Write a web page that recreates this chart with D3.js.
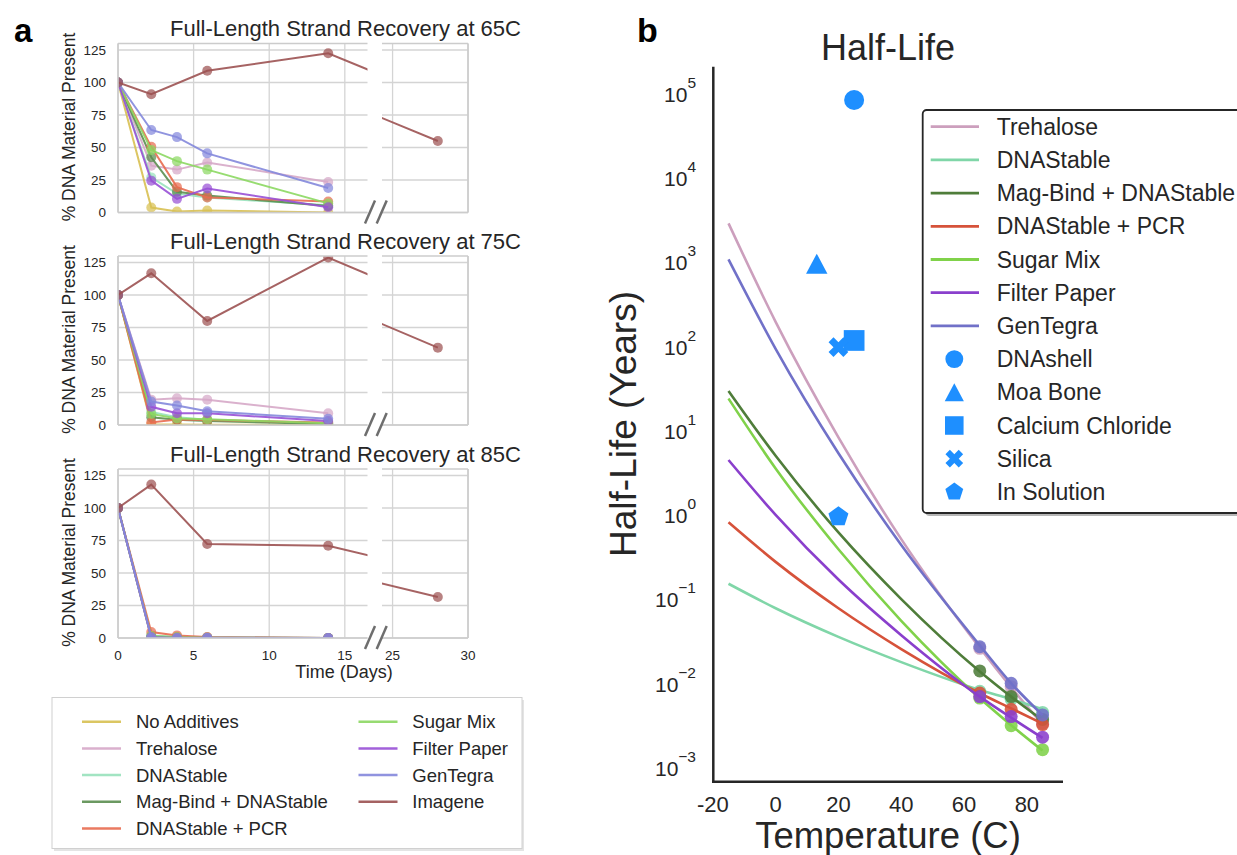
<!DOCTYPE html>
<html>
<head>
<meta charset="utf-8">
<script src="https://cdn.jsdelivr.net/npm/d3@7"></script>
<style>
body { margin: 0; background: #fff; }
text { font-family: "Liberation Sans", Arial, sans-serif; fill: #262626; }
</style>
</head>
<body>
<svg id="fig" width="1237" height="855"></svg>
<script>
// ---------- panel a data ----------
var days = [0, 2.2, 3.9, 5.9, 13.9, 28];
var additives = ["No Additives", "Trehalose", "DNAStable", "Mag-Bind + DNAStable", "DNAStable + PCR",
                 "Sugar Mix", "Filter Paper", "GenTegra", "Imagene"];
var colorsA = ["#d8c052", "#d6a8c8", "#98e2bc", "#5c8e50", "#e86c50", "#8cd862", "#9850d6", "#8488dc", "#9c5252"];
var panelTemps = ["65C", "75C", "85C"];
// one row per additive, one column per day (null = not measured)
var rec65 = [
    [100, 3.8, 0.8, 1.5, 0, null],
    [100, 36, 33, 38.5, 23.5, null],
    [100, 27, 14.5, 11.5, 5.5, null],
    [100, 42.5, 16, 13, 5, null],
    [100, 50.5, 19.5, 11.5, 8.5, null],
    [100, 48, 39.5, 33, 7, null],
    [100, 24.5, 10.5, 18.5, 4, null],
    [100, 63.5, 58, 45.5, 18.8, null],
    [100, 91, null, 109, 122.5, 55]
];
var rec75 = [
    [100, 0.5, 0.3, 0.2, 0, null],
    [100, 19.5, 20.5, 19.5, 9, null],
    [100, 10, 6, 4, 1, null],
    [100, 6, 4, 3, 0.8, null],
    [100, 2, 4.3, 3.9, 2, null],
    [100, 8.5, 5, 4.4, 1.3, null],
    [100, 14, 9, 9, 3, null],
    [100, 18, 15, 10.5, 4.8, null],
    [100, 116.7, null, 80, 128.8, 59.5]
];
var rec85 = [
    [100, 0, 0, 0, 0, null],
    [100, 1, 0.5, 0.3, 0, null],
    [100, 2, 1, 0.5, 0, null],
    [100, 1, 0.4, 0, 0, null],
    [100, 4.6, 2, 0.8, 0, null],
    [100, 1.5, 0.5, 0.2, 0, null],
    [100, 0.5, 0, 0, 0, null],
    [100, 0.3, 0, 0.2, 0, null],
    [100, 118, null, 72.3, 71, 31.6]
];
var yTicksA = [0, 25, 50, 75, 100, 125];
var xTicksLeft = [0, 5, 10, 15];
var xTicksRight = [25, 30];

// ---------- panel b data ----------
var fitTemps = [-15, 0, 20, 40, 65, 75, 85];
var fitNames = ["Trehalose", "DNAStable", "Mag-Bind + DNAStable", "DNAStable + PCR", "Sugar Mix", "Filter Paper", "GenTegra"];
var colorsB = ["#cc9fbd", "#80d6a8", "#4f7d3a", "#d6523a", "#80d24a", "#8a3fcc", "#7171c8"];
var fitValues = [
    [2950, 200, 8.5, 0.525, 0.0269, 0.00912, 0.00331],
    [0.155, 0.0794, 0.0363, 0.0182, 0.00851, 0.00661, 0.00501],
    [30.2, 5.13, 0.631, 0.102, 0.0141, 0.00708, 0.00372],
    [0.832, 0.282, 0.0794, 0.026, 0.00776, 0.00513, 0.00339],
    [24.5, 3.63, 0.398, 0.0562, 0.00676, 0.00324, 0.00162],
    [4.57, 1.02, 0.174, 0.038, 0.00708, 0.00398, 0.00229],
    [1100, 95.5, 5.5, 0.447, 0.0288, 0.0102, 0.00427]
];
var pointTemps = [65, 75, 85];
var pointValues = [
    [0.0265, 0.0093, 0.0034],
    [0.0082, 0.0066, 0.0046],
    [0.0143, 0.0071, 0.0038],
    [0.0078, 0.0050, 0.0033],
    [0.0068, 0.0032, 0.00166],
    [0.0071, 0.0041, 0.00234],
    [0.0277, 0.0102, 0.0043]
];
var refNames = ["DNAshell", "Moa Bone", "Calcium Chloride", "Silica", "In Solution"];
var refTemps = [25, 13.1, 25, 20, 20];
var refValues = [86000, 980, 120, 100, 0.97];
var xTicksB = [-20, 0, 20, 40, 60, 80];
var yExpB = [-3, -2, -1, 0, 1, 2, 3, 4, 5];

var svg = d3.select("#fig");
var defs = svg.append("defs");

// ================= panel a =================
var axTop = [43.5, 256, 469], axH = 169;
var xL = d3.scaleLinear().domain([0, 16.5]).range([118, 367.5]);
var xR = d3.scaleLinear().domain([24.3, 30]).range([382, 468]);
var recAll = [rec65, rec75, rec85];
var gridCol = "#d4d4d4", spineCol = "#cccccc";

svg.append("text").attr("x", 14).attr("y", 41.5)
    .style("font-size", "33px").style("font-weight", "bold").style("fill", "#000").text("a");

panelTemps.forEach(function(t, p) {
    var top = axTop[p], bot = top + axH;
    var y = d3.scaleLinear().domain([0, 130]).range([bot, top]);
    var rec = recAll[p];
    var g = svg.append("g");

    [[xL, xTicksLeft, "L"], [xR, xTicksRight, "R"]].forEach(function(s) {
        var xs = s[0], ticks = s[1], side = s[2];
        var x0 = xs.range()[0], x1 = xs.range()[1];
        var cid = "clipA" + p + side;
        defs.append("clipPath").attr("id", cid).append("rect")
            .attr("x", x0).attr("y", top).attr("width", x1 - x0).attr("height", axH);

        // grid
        g.selectAll(null).data(yTicksA).enter().append("line")
            .attr("x1", x0).attr("x2", x1)
            .attr("y1", function(d) { return y(d); }).attr("y2", function(d) { return y(d); })
            .attr("stroke", gridCol).attr("stroke-width", 1.3);
        g.selectAll(null).data(ticks).enter().append("line")
            .attr("x1", function(d) { return xs(d); }).attr("x2", function(d) { return xs(d); })
            .attr("y1", top).attr("y2", bot)
            .attr("stroke", gridCol).attr("stroke-width", 1.3);

        // series
        var line = d3.line()
            .defined(function(d) { return d[1] != null; })
            .x(function(d) { return xs(d[0]); })
            .y(function(d) { return y(d[1]); });
        var sg = g.append("g").attr("clip-path", "url(#" + cid + ")");
        additives.forEach(function(name, i) {
            var pts = days.map(function(d, j) { return [d, rec[i][j]]; })
                .filter(function(d) { return d[1] != null; });
            sg.append("path").datum(pts).attr("d", line)
                .attr("fill", "none").attr("stroke", colorsA[i])
                .attr("stroke-width", 2).attr("opacity", 0.9);
            sg.selectAll(null).data(pts).enter().append("circle")
                .attr("cx", function(d) { return xs(d[0]); })
                .attr("cy", function(d) { return y(d[1]); })
                .attr("r", 5).attr("fill", colorsA[i]).attr("opacity", 0.72);
        });

        // spines
        g.append("line").attr("x1", x0).attr("x2", x1).attr("y1", top).attr("y2", top)
            .attr("stroke", spineCol).attr("stroke-width", 1.6);
        g.append("line").attr("x1", x0).attr("x2", x1).attr("y1", bot).attr("y2", bot)
            .attr("stroke", spineCol).attr("stroke-width", 1.6);
        var sx = side == "L" ? x0 : x1;
        g.append("line").attr("x1", sx).attr("x2", sx).attr("y1", top).attr("y2", bot)
            .attr("stroke", spineCol).attr("stroke-width", 1.6);

        if (p == 2) {
            g.selectAll(null).data(ticks).enter().append("text")
                .attr("x", function(d) { return xs(d); }).attr("y", 660)
                .attr("text-anchor", "middle").style("font-size", "13.5px")
                .text(function(d) { return d; });
        }
    });

    // y ticks
    g.selectAll(null).data(yTicksA).enter().append("text")
        .attr("x", 106).attr("y", function(d) { return y(d); }).attr("dy", "0.35em")
        .attr("text-anchor", "end").style("font-size", "13.5px")
        .text(function(d) { return d; });

    // y label
    g.append("text")
        .attr("transform", "translate(75," + (top + axH / 2 - 1) + ") rotate(-90)")
        .attr("text-anchor", "middle").style("font-size", "17.5px")
        .text("% DNA Material Present");

    // title
    g.append("text").attr("x", 170).attr("y", top - 7.5)
        .style("font-size", "22px")
        .text("Full-Length Strand Recovery at " + t);

    // break marks
    [365, 376.7].forEach(function(bx) {
        g.append("line").attr("x1", bx).attr("y1", bot + 11).attr("x2", bx + 10).attr("y2", bot - 12)
            .attr("stroke", "#6e6e6e").attr("stroke-width", 2.5);
    });
});

svg.append("text").attr("x", 344).attr("y", 678).attr("text-anchor", "middle")
    .style("font-size", "18px").text("Time (Days)");

// legend a
var legA = svg.append("g");
legA.append("rect").attr("x", 54).attr("y", 700).attr("width", 470).attr("height", 151)
    .attr("fill", "#e4e4e4");
legA.append("rect").attr("x", 52).attr("y", 697.5).attr("width", 470).attr("height", 151)
    .attr("fill", "#fff").attr("stroke", "#d0d0d0").attr("stroke-width", 1);
additives.forEach(function(name, i) {
    var col = i < 5 ? 0 : 1, row = i < 5 ? i : i - 5;
    var ly = 721.7 + row * 26.7;
    var lx = col == 0 ? 82 : 358.5;
    var tx = col == 0 ? 136 : 412.3;
    legA.append("line").attr("x1", lx).attr("x2", lx + 39).attr("y1", ly).attr("y2", ly)
        .attr("stroke", colorsA[i]).attr("stroke-width", 2.5).attr("opacity", 0.9);
    legA.append("text").attr("x", tx).attr("y", ly).attr("dy", "0.35em")
        .style("font-size", "18.5px").text(name);
});

// ================= panel b =================
var xB = d3.scaleLinear().domain([-20, 91.5]).range([712.8, 1063]);
var yB = d3.scaleLog().domain([Math.pow(10, -3.16), Math.pow(10, 5.33)]).range([781.7, 66.7]);
var gb = svg.append("g");

svg.append("text").attr("x", 637).attr("y", 41.7)
    .style("font-size", "34px").style("font-weight", "bold").style("fill", "#000").text("b");

var fitLine = d3.line()
    .x(function(d) { return xB(d[0]); })
    .y(function(d) { return yB(d[1]); })
    .curve(d3.curveMonotoneX);

fitNames.forEach(function(name, i) {
    var pts = fitTemps.map(function(t, j) { return [t, fitValues[i][j]]; });
    gb.append("path").datum(pts).attr("d", fitLine)
        .attr("fill", "none").attr("stroke", colorsB[i]).attr("stroke-width", 2.6);
    var dots = pointTemps.map(function(t, j) { return [t, pointValues[i][j]]; });
    gb.selectAll(null).data(dots).enter().append("circle")
        .attr("cx", function(d) { return xB(d[0]); })
        .attr("cy", function(d) { return yB(d[1]); })
        .attr("r", 6.5).attr("fill", colorsB[i]).attr("opacity", 0.88);
});

// custom marker shapes
var symTri = { draw: function(ctx, size) {
    var r = Math.sqrt(size) / 2;
    ctx.moveTo(0, -r); ctx.lineTo(r * 1.07, r); ctx.lineTo(-r * 1.07, r); ctx.closePath();
} };
var symPent = { draw: function(ctx, size) {
    var r = Math.sqrt(size) / 2;
    for (var k = 0; k < 5; k++) {
        var a = -Math.PI / 2 + k * 2 * Math.PI / 5;
        if (k == 0) ctx.moveTo(r * Math.cos(a), r * Math.sin(a));
        else ctx.lineTo(r * Math.cos(a), r * Math.sin(a));
    }
    ctx.closePath();
} };
var symX = { draw: function(ctx, size) {
    var L = Math.sqrt(size) / 2, w = L / 3;
    var pts = [[w, -L], [w, -w], [L, -w], [L, w], [w, w], [w, L], [-w, L], [-w, w], [-L, w], [-L, -w], [-w, -w], [-w, -L]];
    pts.forEach(function(q, k) {
        var px = (q[0] - q[1]) / Math.SQRT2, py = (q[0] + q[1]) / Math.SQRT2;
        if (k == 0) ctx.moveTo(px, py); else ctx.lineTo(px, py);
    });
    ctx.closePath();
} };
var refShapes = [d3.symbolCircle, symTri, d3.symbolSquare, symX, symPent];
var refSizes = [314, 400, 430, 440, 441];
var refBlue = "#1e8fff";

refNames.forEach(function(name, i) {
    gb.append("path")
        .attr("d", d3.symbol().type(refShapes[i]).size(refSizes[i])())
        .attr("transform", "translate(" + xB(refTemps[i]) + "," + yB(refValues[i]) + ")")
        .attr("fill", refBlue);
});

// spines
gb.append("line").attr("x1", 713.3).attr("x2", 713.3).attr("y1", 66.7).attr("y2", 781.7)
    .attr("stroke", "#262626").attr("stroke-width", 2.5);
gb.append("line").attr("x1", 712).attr("x2", 1063).attr("y1", 781.7).attr("y2", 781.7)
    .attr("stroke", "#262626").attr("stroke-width", 2.5);

// ticks
gb.selectAll(null).data(xTicksB).enter().append("text")
    .attr("x", function(d) { return xB(d); }).attr("y", 811.7)
    .attr("text-anchor", "middle").style("font-size", "22px")
    .text(function(d) { return d; });
yExpB.forEach(function(e) {
    var ty = yB(Math.pow(10, e));
    var tx = gb.append("text").attr("x", 696).attr("y", ty + 7.5).attr("text-anchor", "end");
    tx.append("tspan").style("font-size", "21px").text("10");
    tx.append("tspan").attr("dy", -14).style("font-size", "15.5px")
        .text(e < 0 ? "\u2212" + (-e) : e);
});

gb.append("text").attr("x", 888).attr("y", 848).attr("text-anchor", "middle")
    .style("font-size", "36.5px").text("Temperature (C)");
gb.append("text").attr("transform", "translate(636,424) rotate(-90)")
    .attr("text-anchor", "middle").style("font-size", "37px").text("Half-Life (Years)");
gb.append("text").attr("x", 888).attr("y", 59.5).attr("text-anchor", "middle")
    .style("font-size", "36px").text("Half-Life");

// legend b
var legB = svg.append("g");
legB.append("rect").attr("x", 925.5).attr("y", 113).attr("width", 340).attr("height", 403)
    .attr("rx", 4).attr("fill", "#7a7a7a").attr("opacity", 0.55);
legB.append("rect").attr("x", 922.7).attr("y", 110).attr("width", 340).attr("height", 403)
    .attr("rx", 4).attr("fill", "#fff").attr("stroke", "#262626").attr("stroke-width", 1.8);
var legNames = fitNames.concat(refNames);
legNames.forEach(function(name, k) {
    var ly = 126.7 + k * 33.2;
    if (k < fitNames.length) {
        legB.append("line").attr("x1", 930.7).attr("x2", 979).attr("y1", ly).attr("y2", ly)
            .attr("stroke", colorsB[k]).attr("stroke-width", 2.8);
    } else {
        var r = k - fitNames.length;
        legB.append("path")
            .attr("d", d3.symbol().type(refShapes[r]).size(refSizes[r] * 0.8)())
            .attr("transform", "translate(954.3," + ly + ")")
            .attr("fill", refBlue);
    }
    legB.append("text").attr("x", 996.7).attr("y", ly).attr("dy", "0.35em")
        .style("font-size", "23px").text(name);
});
</script>
</body>
</html>
